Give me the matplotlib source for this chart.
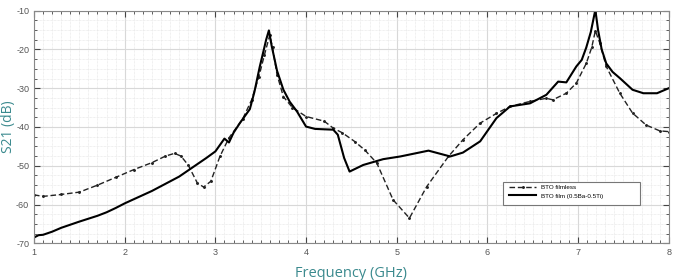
import matplotlib
matplotlib.use("Agg")
import matplotlib.pyplot as plt
from matplotlib.ticker import MultipleLocator
from matplotlib.patches import Rectangle

plt.rcParams['axes.unicode_minus'] = False

# ---- data ----
filmless_f = [1.0, 1.1, 1.3, 1.5, 1.7, 1.9, 2.1, 2.3, 2.45, 2.55, 2.62, 2.7, 2.8, 2.87,
              2.95, 3.05, 3.15, 3.3, 3.4, 3.48, 3.54, 3.6, 3.63, 3.68, 3.75, 3.85, 4.0,
              4.2, 4.3, 4.4, 4.54, 4.65, 4.78, 4.96, 5.14, 5.33, 5.57, 5.73, 5.92, 6.1,
              6.25, 6.47, 6.65, 6.72, 6.87, 6.98, 7.09, 7.15, 7.19, 7.24, 7.31, 7.46, 7.6,
              7.75, 7.9, 8.0]
filmless_s21 = [-57.5, -57.9, -57.4, -56.8, -55.0, -53.0, -51.0, -49.2, -47.5, -46.8,
                -47.5, -49.8, -54.4, -55.5, -54.0, -47.6, -42.8, -38.0, -33.0, -27.0,
                -21.5, -16.3, -19.5, -26.5, -32.2, -35.0, -37.3, -38.5, -40.3, -41.5,
                -43.8, -46.0, -49.3, -58.8, -63.5, -55.4, -47.6, -43.3, -39.0, -36.5,
                -34.7, -33.4, -32.6, -33.0, -31.3, -28.7, -23.6, -19.5, -15.2, -18.4,
                -24.4, -31.3, -36.4, -39.5, -41.0, -41.2]

film_f = [1.0, 1.05, 1.1, 1.2, 1.3, 1.5, 1.7, 1.8, 1.9, 2.0, 2.3, 2.6, 2.9, 3.0, 3.1,
          3.15, 3.2, 3.27, 3.38, 3.43, 3.49, 3.53, 3.56, 3.59, 3.62, 3.68, 3.75, 3.82,
          3.9, 4.0, 4.1, 4.3, 4.35, 4.42, 4.48, 4.63, 4.85, 5.04, 5.35, 5.59, 5.73,
          5.92, 6.1, 6.25, 6.47, 6.65, 6.78, 6.87, 6.98, 7.04, 7.09, 7.14, 7.19, 7.22,
          7.26, 7.31, 7.38, 7.46, 7.6, 7.72, 7.87, 8.0]
film_s21 = [-68.5, -67.9, -67.8, -67.0, -66.0, -64.4, -62.9, -62.0, -60.9, -59.7,
            -56.5, -52.8, -48.0, -46.3, -43.0, -44.0, -41.5, -39.0, -35.4, -31.0,
            -24.4, -20.5, -17.5, -15.1, -19.0, -25.5, -30.4, -33.5, -36.0, -39.9,
            -40.5, -40.7, -42.0, -48.0, -51.5, -49.8, -48.3, -47.6, -46.1, -47.6,
            -46.6, -43.7, -37.7, -34.7, -33.9, -31.7, -28.3, -28.5, -24.4, -22.7,
            -19.5, -15.5, -9.8, -15.0, -20.0, -23.6, -25.8, -27.4, -30.4, -31.3,
            -31.3, -30.0]

labels = ["BTO filmless", "BTO film (0.5Ba-0.5Ti)"]
x_label = "Frequency (GHz)"
y_label = "S21 (dB)"

# ---- figure ----
fig = plt.figure(figsize=(6.87, 2.8), dpi=100)
ax = fig.add_axes([0.0495, 0.131, 0.924, 0.831])

ax.plot(filmless_f, filmless_s21, color='#222222', lw=1.0, ls=(0, (4, 2)),
        marker='.', ms=2.2, label=labels[0])
ax.plot(film_f, film_s21, color='black', lw=1.5, label=labels[1])

ax.set_xlim(1, 8)
ax.set_ylim(-70, -10)
ax.xaxis.set_major_locator(MultipleLocator(1))
ax.xaxis.set_minor_locator(MultipleLocator(0.1))
ax.yaxis.set_major_locator(MultipleLocator(10))
ax.yaxis.set_minor_locator(MultipleLocator(2.5))

ax.grid(which='major', color='#d8d8d8', lw=0.8)
ax.grid(which='minor', color='#e2e2e2', lw=0.5, ls=(0, (1, 1)))
ax.set_axisbelow(True)

ax.tick_params(which='both', direction='in', top=True, right=True,
               labelsize=6.5, labelcolor='#555555', color='#444444')
ax.tick_params(which='major', length=4)
ax.tick_params(which='minor', length=2.5)
for lab in ax.get_xticklabels() + ax.get_yticklabels():
    lab.set_family('Liberation Sans')
for s in ax.spines.values():
    s.set_color('#888888')
    s.set_linewidth(0.8)

ax.set_xlabel(x_label, fontsize=10.5, color='#3b8a8e', family='Open Sans', labelpad=6)
ax.set_ylabel(y_label, fontsize=10, color='#3b8a8e', family='Open Sans')
ax.yaxis.set_label_coords(-0.029, 0.5)

# legend box
ax.add_patch(Rectangle((0.7386, 0.1647), 0.2154, 0.0988, transform=ax.transAxes,
                       facecolor='white', edgecolor='#777777', lw=0.8, zorder=4))
leg = ax.legend(loc='upper left', bbox_to_anchor=(0.741, 0.272), frameon=False,
                borderpad=0.3, handlelength=4.2, handletextpad=0.9,
                labelspacing=0.45, prop={'family': 'Liberation Sans', 'size': 4.5})
leg.set_zorder(5)

fig.savefig('out.png', dpi=100)
